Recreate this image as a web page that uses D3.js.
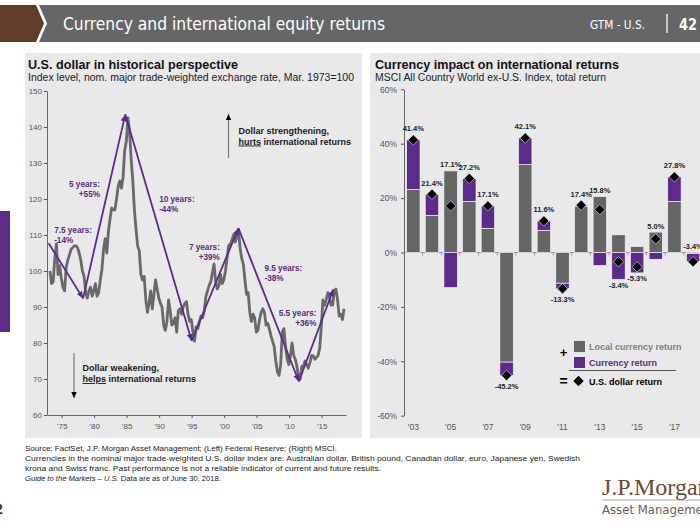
<!DOCTYPE html>
<html><head><meta charset="utf-8">
<script src="https://cdn.jsdelivr.net/npm/d3@7"></script>
<style>
body{margin:0;background:#fff;}
svg{display:block;font-family:Arial,"Liberation Sans",Helvetica,sans-serif;}
</style>
</head><body>
<svg id="c" width="700" height="525"></svg>
<script>
// ---------------- DATA ----------------
// Left: nominal major trade-weighted U.S. dollar index (quarterly readings, Mar 1973 = 100)
const dollarStartYear = 1973;
const dollarStepYears = 0.25;
const dollarIndex = [
  100.0, 96.5, 97.0, 103.5,   // 1973
  107.5, 99.0, 101.5, 98.0,   // 1974
  95.5, 94.5, 101.0, 103.0,   // 1975
  104.5, 106.0, 106.5, 107.0, // 1976
  107.0, 106.5, 105.0, 103.0, // 1977
  100.0, 98.5, 94.0, 92.5,    // 1978
  94.5, 95.5, 93.0, 94.5,     // 1979
  96.5, 93.0, 94.0, 97.5,     // 1980
  100.5, 106.0, 109.0, 105.0, // 1981
  111.0, 114.5, 117.5, 117.0, // 1982
  117.0, 120.0, 123.5, 125.0, // 1983
  123.0, 126.0, 133.5, 136.0, // 1984
  142.5, 139.0, 131.0, 125.0, // 1985
  117.0, 111.5, 107.0, 105.5, // 1986
  99.0, 97.5, 98.5, 92.0,     // 1987
  88.5, 91.0, 94.5, 89.5,     // 1988
  93.5, 97.5, 95.0, 92.5,     // 1989
  91.0, 90.0, 85.0, 83.5,     // 1990
  86.0, 92.0, 89.0, 85.0,     // 1991
  85.5, 87.0, 83.0, 89.0,     // 1992
  89.5, 88.0, 90.0, 91.0,     // 1993
  91.5, 88.0, 86.0, 86.5,     // 1994
  83.0, 80.5, 84.5, 84.0,     // 1995
  86.0, 87.5, 87.0, 89.0,     // 1996
  93.0, 94.5, 96.0, 97.0,     // 1997
  99.5, 102.0, 97.0, 95.0,    // 1998
  96.0, 99.0, 96.5, 97.5,     // 1999
  100.0, 103.5, 107.0, 107.5, // 2000
  108.5, 110.0, 108.0, 109.5, // 2001
  111.5, 106.5, 103.5, 102.0, // 2002
  97.5, 93.5, 94.0, 88.5,     // 2003
  86.0, 88.0, 87.0, 83.0,     // 2004
  83.5, 86.5, 88.5, 89.5,     // 2005
  88.5, 85.0, 85.5, 84.0,     // 2006
  82.0, 80.5, 79.0, 75.0,     // 2007
  72.0, 71.0, 74.0, 83.0,     // 2008
  84.0, 79.0, 75.5, 74.0,     // 2009
  76.5, 80.0, 76.5, 75.5,     // 2010
  73.5, 70.5, 70.0, 73.5,     // 2011
  73.5, 75.0, 74.0, 73.0,     // 2012
  74.5, 76.5, 76.5, 75.5,     // 2013
  76.0, 76.5, 78.5, 84.5,     // 2014
  92.0, 90.5, 92.0, 94.0,     // 2015
  93.0, 90.5, 90.5, 94.5,     // 2016
  95.0, 92.0, 87.5, 88.0,     // 2017
  86.5, 89.5                  // 2018
];
// swing turning points [year, index]
const swingYears  = [1973.0, 1978.3, 1984.8, 1995.0, 2002.2, 2011.5, 2016.8];
const swingValues = [107.7, 92.4, 143.5, 80.6, 111.9, 69.3, 94.9];
const swingDuration = ["7.5 years:", "5 years:", "10 years:", "7 years:", "9.5 years:", "5.5 years:"];
const swingChange   = ["-14%", "+55%", "-44%", "+39%", "-38%", "+36%"];
const leftYTicks = [60, 70, 80, 90, 100, 110, 120, 130, 140, 150];
const leftXTickYears  = [1975, 1980, 1985, 1990, 1995, 2000, 2005, 2010, 2015];
const leftXTickLabels = ["'75", "'80", "'85", "'90", "'95", "'00", "'05", "'10", "'15"];

// Right: MSCI ACWI ex-U.S. total return decomposition (%)
const years          = [2003, 2004, 2005, 2006, 2007, 2008, 2009, 2010, 2011, 2012, 2013, 2014, 2015, 2016, 2017, 2018];
const localReturn    = [23.2, 13.6, 30.0, 18.8, 8.9, -40.3, 32.3, 8.1, -11.3, 17.0, 20.6, 6.5, 2.2, 7.5, 18.8, -0.4];
const currencyReturn = [18.2, 7.8, -12.9, 8.4, 8.2, -4.9, 9.8, 3.5, -2.0, 0.4, -4.8, -9.9, -7.5, -2.5, 9.0, -3.0];
const usdReturn      = [41.4, 21.4, 17.1, 27.2, 17.1, -45.2, 42.1, 11.6, -13.3, 17.4, 15.8, -3.4, -5.3, 5.0, 27.8, -3.4];
const rightYTicks = [-60, -40, -20, 0, 20, 40, 60];
const rightXTickYears  = [2003, 2005, 2007, 2009, 2011, 2013, 2015, 2017];
const rightXTickLabels = ["'03", "'05", "'07", "'09", "'11", "'13", "'15", "'17"];

// ---------------- DRAW ----------------
const PURPLE = "#5b2b88", GREY_BAR = "#656565", GREY_LINE = "#696969", PANEL = "#e9e9e9";
const svg = d3.select("#c");
const narrow = '"Liberation Sans Narrow","DejaVu Sans Condensed","Arial Narrow",Arial,sans-serif';

// header
svg.append("polygon").attr("points", "0,5 36,5 44,23.5 36,42 0,42").attr("fill", "#5f3b29");
svg.append("polygon").attr("points", "39,5 700,5 700,42 39,42 47,23.5").attr("fill", "#666666");
svg.append("text").attr("x", 63).attr("y", 30).attr("fill", "#fff")
  .style("font-family", narrow).attr("font-size", 18)
  .attr("textLength", 322).attr("lengthAdjust", "spacingAndGlyphs")
  .text("Currency and international equity returns");
svg.append("text").attr("x", 590).attr("y", 29).attr("fill", "#fff")
  .style("font-family", narrow).attr("font-size", 12)
  .attr("textLength", 55).attr("lengthAdjust", "spacingAndGlyphs").text("GTM - U.S.");
svg.append("line").attr("x1", 667).attr("x2", 667).attr("y1", 14).attr("y2", 33).attr("stroke", "#fff").attr("stroke-width", 1.3);
svg.append("text").attr("x", 679).attr("y", 30).attr("fill", "#fff")
  .style("font-family", narrow).attr("font-size", 16).attr("font-weight", "bold")
  .attr("textLength", 18).attr("lengthAdjust", "spacingAndGlyphs").text("42");

// side tab, page number fragment
svg.append("rect").attr("x", 0).attr("y", 211).attr("width", 10).attr("height", 121).attr("fill", PURPLE);
svg.append("text").attr("x", -5).attr("y", 514).attr("font-size", 14).attr("font-weight", "bold").attr("fill", "#333").text("2");

// panels
svg.append("rect").attr("x", 25).attr("y", 53).attr("width", 337).attr("height", 385).attr("fill", PANEL);
svg.append("rect").attr("x", 370).attr("y", 53).attr("width", 335).attr("height", 385).attr("fill", PANEL);

// titles
function title(x, t, st, tl, stl) {
  svg.append("text").attr("x", x).attr("y", 69).attr("font-size", 12.5).attr("font-weight", "bold").attr("fill", "#111")
    .attr("textLength", tl).attr("lengthAdjust", "spacingAndGlyphs").text(t);
  svg.append("text").attr("x", x).attr("y", 81).attr("font-size", 10).attr("fill", "#222")
    .attr("textLength", stl).attr("lengthAdjust", "spacingAndGlyphs").text(st);
}
title(28, "U.S. dollar in historical perspective", "Index level, nom. major trade-weighted exchange rate, Mar. 1973=100", 210, 326);
title(375, "Currency impact on international returns", "MSCI All Country World ex-U.S. Index, total return", 244, 231);

// ---------- LEFT CHART ----------
const xL = d3.scaleLinear().domain([1972.75, 2018.75]).range([47, 346]);
const yL = d3.scaleLinear().domain([60, 150]).range([415, 91]);

const gLy = svg.append("g").attr("transform", "translate(47,0)")
  .call(d3.axisLeft(yL).tickValues(leftYTicks).tickSize(3).tickSizeOuter(0).tickPadding(2));
const gLx = svg.append("g").attr("transform", "translate(0,415)")
  .call(d3.axisBottom(xL).tickValues(leftXTickYears).tickFormat((d, i) => leftXTickLabels[i])
        .tickSize(3).tickSizeOuter(0).tickPadding(5));
[gLy, gLx].forEach(g => {
  g.attr("color", "#555").attr("font-size", 8).attr("font-family", "Arial,'Liberation Sans',sans-serif");
  g.select(".domain").attr("stroke", "#666");
});

const dollarPts = dollarIndex.map((v, i) => [dollarStartYear + 0.2 + i * dollarStepYears, v]);
svg.append("path").datum(dollarPts)
  .attr("d", d3.line().x(d => xL(d[0])).y(d => yL(d[1])))
  .attr("fill", "none").attr("stroke", GREY_LINE).attr("stroke-width", 2.8).attr("stroke-linejoin", "round");

// arrow markers
const defs = svg.append("defs");
defs.append("marker").attr("id", "ph").attr("viewBox", "0 0 10 10").attr("refX", 10).attr("refY", 5)
  .attr("markerWidth", 7).attr("markerHeight", 7).attr("markerUnits", "userSpaceOnUse").attr("orient", "auto")
  .append("path").attr("d", "M0,0.5 L10,5 L0,9.5 Z").attr("fill", PURPLE);
defs.append("marker").attr("id", "bh").attr("viewBox", "0 0 10 10").attr("refX", 10).attr("refY", 5)
  .attr("markerWidth", 6).attr("markerHeight", 6).attr("markerUnits", "userSpaceOnUse").attr("orient", "auto")
  .append("path").attr("d", "M0,0.5 L10,5 L0,9.5 Z").attr("fill", "#000");

for (let i = 0; i < swingYears.length - 1; i++) {
  svg.append("line")
    .attr("x1", xL(swingYears[i])).attr("y1", yL(swingValues[i]))
    .attr("x2", xL(swingYears[i + 1])).attr("y2", yL(swingValues[i + 1]))
    .attr("stroke", PURPLE).attr("stroke-width", 1.8).attr("marker-end", "url(#ph)");
}
// swing labels anchored in data space: [year, value, anchor]
const swingLabelAnchors = [[1973.85, 110.6, "start"], [1980.9, 123.3, "end"], [1990.0, 119.3, "start"],
                           [1999.35, 105.8, "end"], [2006.2, 100.0, "start"], [2014.2, 87.4, "end"]];
swingLabelAnchors.forEach((a, i) => {
  const t = svg.append("text").attr("x", xL(a[0])).attr("y", yL(a[1])).attr("text-anchor", a[2])
    .attr("font-size", 8.2).attr("font-weight", "bold").attr("fill", PURPLE);
  t.append("tspan").attr("x", xL(a[0])).text(swingDuration[i]);
  t.append("tspan").attr("x", xL(a[0])).attr("dy", 10).text(swingChange[i]);
});

// direction notes
function note(x, y, l1, u, rest) {
  const t = svg.append("text").attr("x", x).attr("y", y).attr("font-size", 9).attr("font-weight", "bold").attr("fill", "#1a1a1a");
  t.append("tspan").attr("x", x).text(l1);
  const t2 = t.append("tspan").attr("x", x).attr("dy", 11);
  t2.append("tspan").attr("text-decoration", "underline").text(u);
  t2.append("tspan").text(rest);
}
note(238.5, 133.5, "Dollar strengthening,", "hurts", " international returns");
note(82.5, 371, "Dollar weakening,", "helps", " international returns");
svg.append("line").attr("x1", 228.5).attr("x2", 228.5).attr("y1", 158).attr("y2", 114)
  .attr("stroke", "#7a7a7a").attr("stroke-width", 1.2).attr("marker-end", "url(#bh)");
svg.append("line").attr("x1", 74).attr("x2", 74).attr("y1", 353).attr("y2", 398)
  .attr("stroke", "#7a7a7a").attr("stroke-width", 1.2).attr("marker-end", "url(#bh)");

// ---------- RIGHT CHART ----------
const yR = d3.scaleLinear().domain([-60, 60]).range([415.7, 89.3]);
const xR = d3.scaleBand().domain(years).range([404, 702.4]).paddingInner(0.28).paddingOuter(0.14);

const gRy = svg.append("g").attr("transform", "translate(404,0)")
  .call(d3.axisLeft(yR).tickValues(rightYTicks).tickFormat(d => d + "%").tickSize(3).tickSizeOuter(0).tickPadding(4));
gRy.attr("color", "#555").attr("font-size", 8.5).attr("font-family", "Arial,'Liberation Sans',sans-serif");
gRy.select(".domain").attr("stroke", "#666");

// zero line with small separators
svg.append("line").attr("x1", 404).attr("x2", 702).attr("y1", yR(0)).attr("y2", yR(0)).attr("stroke", "#8a8a8a").attr("stroke-width", 0.8);
years.forEach(yr => {
  const bx = xR(yr) - xR.step() * 0.14;
  svg.append("line").attr("x1", bx).attr("x2", bx).attr("y1", yR(0)).attr("y2", yR(0) + 3).attr("stroke", "#8a8a8a").attr("stroke-width", 0.8);
});

const series = years.map((yr, i) => ({ year: yr, local: localReturn[i], currency: currencyReturn[i], usd: usdReturn[i] }));
const stack = d3.stack().keys(["local", "currency"]).offset(d3.stackOffsetDiverging)(series);
const colors = { local: GREY_BAR, currency: PURPLE };
stack.forEach(layer => {
  svg.append("g").selectAll("rect").data(layer).join("rect")
    .attr("x", d => xR(d.data.year)).attr("width", xR.bandwidth())
    .attr("y", d => yR(Math.max(d[0], d[1])))
    .attr("height", d => Math.abs(yR(d[0]) - yR(d[1])))
    .attr("fill", colors[layer.key]).attr("stroke", "#f2f2f2").attr("stroke-width", 0.7);
});

// diamonds
const dia = "M0,-5.2 L5.2,0 L0,5.2 L-5.2,0 Z";
svg.append("g").selectAll("path").data(series).join("path")
  .attr("d", dia).attr("transform", d => `translate(${xR(d.year) + xR.bandwidth() / 2},${yR(d.usd)})`)
  .attr("fill", "#000").attr("stroke", "#eee").attr("stroke-width", 0.6);

// value labels
const partialYear = 2018;
svg.append("g").selectAll("text").data(series).join("text")
  .attr("x", d => xR(d.year) + xR.bandwidth() / 2)
  .attr("y", d => {
    const top = Math.min(yR(Math.max(0, d.local) + Math.max(0, d.currency)), yR(d.usd) - 5);
    const bot = Math.max(yR(Math.min(0, d.local) + Math.min(0, d.currency)), yR(d.usd) + 5);
    if (d.year === partialYear) return yR(0) - 4;
    return d.usd >= 0 ? top - 3.5 : bot + 8.5;
  })
  .attr("text-anchor", "middle").attr("font-size", 7.5).attr("font-weight", "bold").attr("fill", "#222")
  .text(d => d.usd.toFixed(1) + "%");

// x labels
svg.append("g").selectAll("text").data(rightXTickYears).join("text")
  .attr("x", d => xR(d) + xR.bandwidth() / 2).attr("y", 429.5)
  .attr("text-anchor", "middle").attr("font-size", 8.5).attr("fill", "#555")
  .text((d, i) => rightXTickLabels[i]);

// legend
svg.append("rect").attr("x", 574).attr("y", 341).attr("width", 11).attr("height", 11).attr("fill", GREY_BAR);
svg.append("text").attr("x", 589).attr("y", 350).attr("font-size", 9).attr("font-weight", "bold").attr("fill", "#808080").text("Local currency return");
svg.append("text").attr("x", 563.5).attr("y", 357).attr("text-anchor", "middle").attr("font-size", 13).attr("font-weight", "bold").attr("fill", "#000").text("+");
svg.append("rect").attr("x", 574).attr("y", 357).attr("width", 11).attr("height", 11).attr("fill", PURPLE);
svg.append("text").attr("x", 589).attr("y", 366).attr("font-size", 9).attr("font-weight", "bold").attr("fill", PURPLE).text("Currency return");
svg.append("line").attr("x1", 569).attr("x2", 676).attr("y1", 370.5).attr("y2", 370.5).attr("stroke", "#555").attr("stroke-width", 1);
svg.append("text").attr("x", 563.5).attr("y", 385.5).attr("text-anchor", "middle").attr("font-size", 14).attr("font-weight", "bold").attr("fill", "#000").text("=");
svg.append("path").attr("d", dia).attr("transform", "translate(578.5,381)").attr("fill", "#000");
svg.append("text").attr("x", 589).attr("y", 384.5).attr("font-size", 9).attr("font-weight", "bold").attr("fill", "#000").text("U.S. dollar return");

// footer
const foot = svg.append("g").attr("font-size", 7.6).attr("fill", "#222");
foot.append("text").attr("x", 25).attr("y", 451).attr("textLength", 312).attr("lengthAdjust", "spacingAndGlyphs")
  .text("Source: FactSet, J.P. Morgan Asset Management; (Left) Federal Reserve; (Right) MSCI.");
foot.append("text").attr("x", 25).attr("y", 461).attr("textLength", 555).attr("lengthAdjust", "spacingAndGlyphs")
  .text("Currencies in the nominal major trade-weighted U.S. dollar index are: Australian dollar, British pound, Canadian dollar, euro, Japanese yen, Swedish");
foot.append("text").attr("x", 25).attr("y", 471).attr("textLength", 356).attr("lengthAdjust", "spacingAndGlyphs")
  .text("krona and Swiss franc. Past performance is not a reliable indicator of current and future results.");
const f4 = foot.append("text").attr("x", 25).attr("y", 481);
f4.append("tspan").attr("font-style", "italic").text("Guide to the Markets \u2013 U.S.");
f4.append("tspan").text(" Data are as of June 30, 2018.");

// logo
svg.append("text").attr("x", 602).attr("y", 495).attr("font-family", "'Liberation Serif','DejaVu Serif',serif")
  .attr("font-size", 24).attr("fill", "#6a4a35").text("J.P.Morgan");
svg.append("line").attr("x1", 603).attr("x2", 700).attr("y1", 500).attr("y2", 500).attr("stroke", "#9a8a80").attr("stroke-width", 0.8);
svg.append("text").attr("x", 602).attr("y", 513.5).style("font-family", narrow)
  .attr("font-size", 13).attr("fill", "#6e6058").text("Asset Management");
</script>
</body></html>
